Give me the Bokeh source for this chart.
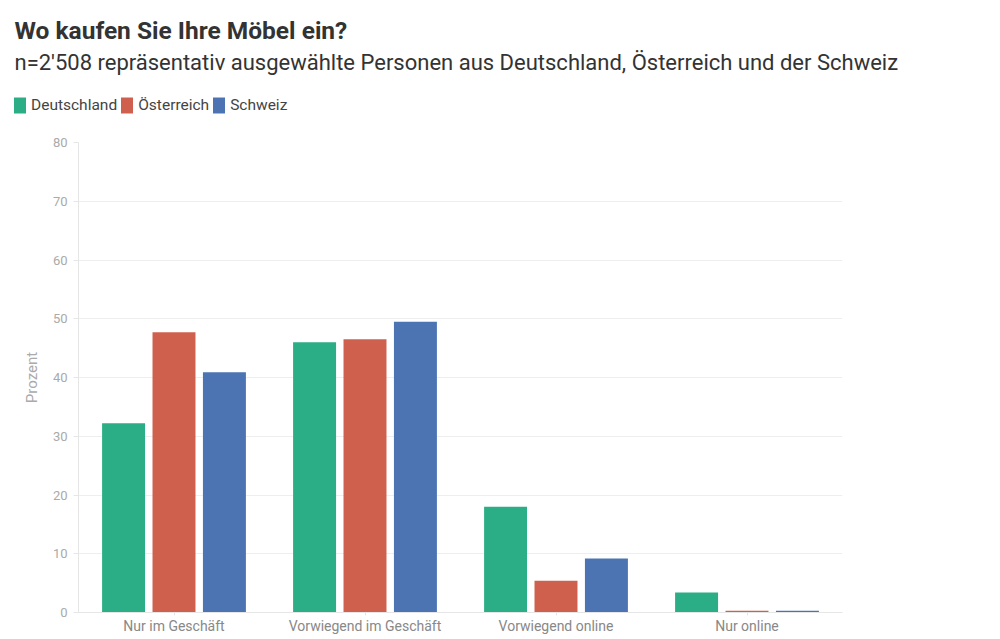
from bokeh.plotting import figure
from bokeh.layouts import column
from bokeh.models import (FactorRange, Range1d, Label, Legend, LegendItem,
                          ColumnDataSource, FixedTicker)
from bokeh.transform import dodge
from bokeh.embed import file_html
from bokeh.resources import INLINE

categories = ["Nur im Geschäft", "Vorwiegend im Geschäft", "Vorwiegend online", "Nur online"]
deutschland = [32.2, 46.0, 18.0, 3.4]
oesterreich = [47.7, 46.5, 5.4, 0.3]
schweiz = [40.9, 49.5, 9.2, 0.3]
series_names = ["Deutschland", "Österreich", "Schweiz"]
colors = ["#2bae85", "#d0604e", "#4c74b3"]
y_ticks = [0, 10, 20, 30, 40, 50, 60, 70, 80]
title_text = "Wo kaufen Sie Ihre Möbel ein?"
subtitle_text = "n=2'508 repräsentativ ausgewählte Personen aus Deutschland, Österreich und der Schweiz"

FONT = "Roboto"
TOP_H = 122

src = ColumnDataSource(dict(cat=categories, d=deutschland, o=oesterreich, s=schweiz))
keys = ["d", "o", "s"]
offsets = [-0.264, 0.0, 0.264]

# ---- header figure: title, subtitle, legend ----
top = figure(x_range=FactorRange(*categories), y_range=Range1d(1000, 1001),
             width=1000, height=TOP_H, output_backend="svg", toolbar_location=None,
             min_border=0, x_axis_type=None, y_axis_type=None)
top.frame_align = False
top.outline_line_color = None
top.grid.visible = False
leg_renderers = []
for key, off, col in zip(keys, offsets, colors):
    r = top.vbar(x=dodge("cat", off, range=top.x_range), top=key, width=0.225, source=src,
                 fill_color=col, line_color=None)
    leg_renderers.append(r)

top.add_layout(Label(x=14, y=TOP_H - 30, x_units="screen", y_units="screen", text=title_text,
                     text_font=FONT, text_font_size="24.5px", text_font_style="bold",
                     text_color="#333333", text_baseline="middle", text_align="left"))
top.add_layout(Label(x=14, y=TOP_H - 62, x_units="screen", y_units="screen", text=subtitle_text,
                     text_font=FONT, text_font_size="22px", text_font_style="normal",
                     text_color="#333333", text_baseline="middle", text_align="left"))

legend = Legend(items=[LegendItem(label=n, renderers=[r]) for n, r in zip(series_names, leg_renderers)],
                orientation="horizontal", location=(12, TOP_H - 115),
                label_text_font=FONT, label_text_font_size="15.5px", label_text_color="#444444",
                glyph_width=15, glyph_height=20, label_standoff=4, spacing=2, label_height=20,
                padding=0, margin=0, border_line_color=None, background_fill_alpha=0)
top.add_layout(legend, "center")

# ---- main chart ----
p = figure(x_range=FactorRange(*categories), y_range=Range1d(0, 80),
           width=1000, height=639 - TOP_H, output_backend="svg", toolbar_location=None,
           min_border_left=78, min_border_right=158, min_border_bottom=27,
           min_border_top=142 - TOP_H)
p.frame_align = False

for key, off, col in zip(keys, offsets, colors):
    p.vbar(x=dodge("cat", off, range=p.x_range), top=key, width=0.225, source=src,
           fill_color=col, line_color=None)

p.outline_line_color = None
p.xgrid.grid_line_color = None
p.ygrid.grid_line_color = "#eeeeee"
p.yaxis.ticker = FixedTicker(ticks=y_ticks)
for ax in [p.xaxis[0], p.yaxis[0]]:
    ax.axis_line_color = "#e6e6e6"
    ax.major_tick_line_color = "#e6e6e6"
    ax.minor_tick_line_color = None
    ax.major_tick_in = 0
    ax.major_tick_out = 5
    ax.major_label_text_font = FONT
    ax.axis_label_text_font = FONT
p.yaxis.major_label_text_color = "#aaaaaa"
p.yaxis.major_label_text_font_size = "13px"
p.yaxis.major_label_standoff = 6
p.yaxis.axis_label = "Prozent"
p.yaxis.axis_label_text_color = "#aaaaaa"
p.yaxis.axis_label_text_font_size = "15px"
p.yaxis.axis_label_text_font_style = "normal"
p.yaxis.axis_label_standoff = 9
p.xaxis.major_label_text_color = "#888888"
p.xaxis.major_label_text_font_size = "14px"
p.xaxis.major_label_standoff = 2
p.xaxis.major_tick_out = 3

layout = column(top, p, spacing=0)
open("out.html", "w").write(file_html(layout, INLINE))
